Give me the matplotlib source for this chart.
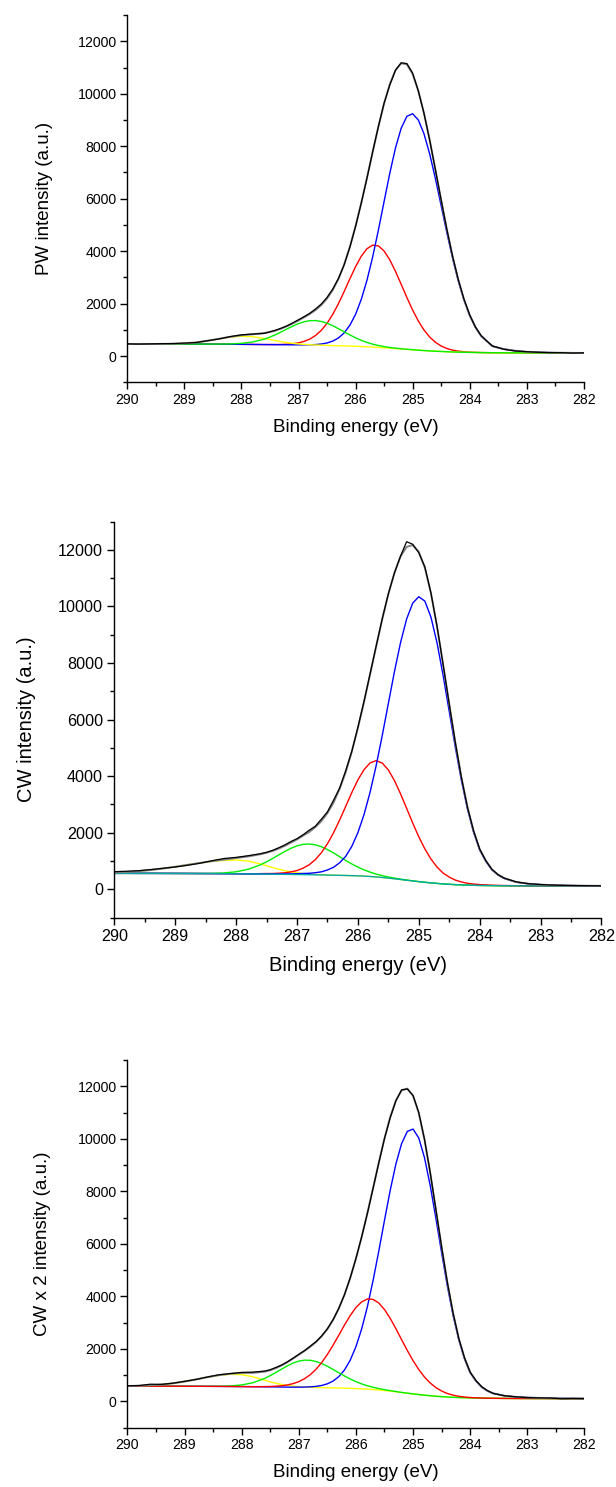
import matplotlib
matplotlib.use("Agg")
import matplotlib.pyplot as plt
from matplotlib.ticker import MultipleLocator

plt.rcParams['font.family'] = ['Liberation Sans', 'DejaVu Sans']

# ---------------- data ----------------
energy = [290.0, 289.8, 289.6, 289.4, 289.2, 289.0, 288.8, 288.6, 288.4, 288.2, 288.0, 287.8, 287.6,
          287.5, 287.4, 287.3, 287.2, 287.1, 287.0, 286.9, 286.8, 286.7, 286.6,
          286.5, 286.4, 286.3, 286.2, 286.1, 286.0, 285.9, 285.8, 285.7, 285.6,
          285.5, 285.4, 285.3, 285.2, 285.1, 285.0, 284.9, 284.8, 284.7, 284.6,
          284.5, 284.4, 284.3, 284.2, 284.1, 284.0, 283.9, 283.8, 283.7, 283.6,
          283.4, 283.2, 283.0, 282.8, 282.6, 282.4, 282.2, 282.0]

# Panel 1 : PW
pw_yellow = [465, 465, 465, 468, 474, 490, 525, 583, 658, 727, 761, 741, 675,
             634, 592, 554, 519, 491, 468, 451, 438, 428, 420,
             413, 405, 399, 393, 386, 378, 368, 358, 347, 335,
             320, 305, 290, 275, 260, 245, 230, 215, 202, 190,
             180, 170, 162, 155, 150, 145, 141, 138, 135, 133,
             130, 128, 126, 125, 124, 123, 122, 121]
pw_green = [465, 465, 465, 465, 464, 463, 462, 461, 462, 467, 489, 543, 651,
            729, 823, 929, 1039, 1148, 1242, 1314, 1354, 1357, 1324,
            1256, 1161, 1048, 929, 811, 702, 605, 525, 460, 408,
            366, 332, 306, 284, 265, 247, 231, 215, 202, 190,
            180, 170, 162, 155, 150, 145, 141, 138, 135, 133,
            130, 128, 126, 125, 124, 123, 122, 121]
pw_red = [465, 465, 465, 465, 464, 463, 462, 460, 458, 455, 452, 448, 444,
          445, 445, 449, 457, 476, 509, 566, 655, 792, 988,
          1254, 1594, 2002, 2464, 2948, 3412, 3810, 4096, 4233, 4205,
          4009, 3673, 3234, 2739, 2235, 1761, 1343, 999, 730, 531,
          390, 294, 232, 193, 170, 155, 146, 140, 136, 133,
          130, 128, 126, 125, 124, 123, 122, 121]
pw_blue = [465, 465, 465, 465, 464, 463, 462, 460, 458, 455, 452, 448, 444,
           442, 440, 438, 435, 434, 433, 433, 435, 444, 465,
           504, 576, 696, 888, 1179, 1596, 2163, 2893, 3783, 4802,
           5891, 6968, 7934, 8688, 9141, 9239, 9002, 8472, 7703, 6765,
           5742, 4711, 3739, 2874, 2145, 1557, 1106, 774, 575, 381,
           270, 206, 168, 150, 138, 131, 126, 123]
pw_fit = [465, 465, 465, 468, 474, 490, 525, 584, 662, 739, 798, 836, 882,
          924, 980, 1056, 1145, 1250, 1362, 1483, 1613, 1764, 1952,
          2197, 2521, 2948, 3495, 4166, 4954, 5842, 6798, 7782, 8745,
          9626, 10363, 10894, 11161, 11121, 10757, 10116, 9256, 8231, 7106,
          5952, 4835, 3809, 2912, 2165, 1567, 1111, 776, 576, 381,
          270, 206, 168, 150, 138, 131, 126, 123]
pw_data = [470, 462, 470, 478, 482, 500, 520, 590, 655, 745, 815, 845, 870,
           930, 990, 1070, 1160, 1270, 1390, 1510, 1640, 1800, 1990,
           2240, 2560, 2960, 3480, 4150, 4940, 5830, 6780, 7790, 8750,
           9640, 10330, 10900, 11180, 11150, 10790, 10110, 9250, 8230, 7100,
           5960, 4840, 3820, 2930, 2180, 1580, 1120, 790, 580, 390,
           265, 200, 172, 150, 135, 135, 120, 128]

# Panel 2 : CW
cw_base = [565, 565, 564, 564, 563, 562, 561, 559, 557, 554, 550, 546, 541,
           539, 536, 533, 530, 527, 524, 521, 517, 513, 509,
           505, 500, 495, 490, 484, 478, 467, 455, 438, 420,
           397, 374, 348, 322, 297, 272, 250, 228, 210, 192,
           179, 166, 158, 149, 144, 138, 135, 131, 129, 127,
           124, 122, 121, 120, 119, 119, 118, 118]
cw_yellow = [594, 614, 643, 684, 736, 799, 866, 931, 987, 1024, 1036, 999, 896,
             834, 770, 711, 660, 617, 584, 560, 541, 527, 517,
             509, 502, 496, 490, 484, 478, 467, 455, 438, 420,
             397, 374, 348, 322, 297, 272, 250, 228, 210, 192,
             179, 166, 158, 149, 144, 138, 135, 131, 129, 127,
             124, 122, 121, 120, 119, 119, 118, 118]
cw_green = [565, 565, 564, 564, 563, 562, 561, 561, 565, 580, 621, 711, 868,
            974, 1092, 1217, 1341, 1451, 1537, 1590, 1603, 1574, 1507,
            1408, 1286, 1154, 1021, 896, 786, 688, 608, 540, 485,
            437, 398, 362, 329, 301, 274, 251, 228, 210, 192,
            179, 166, 158, 149, 144, 138, 135, 131, 129, 127,
            124, 122, 121, 120, 119, 119, 118, 118]
cw_red = [565, 565, 564, 564, 563, 562, 561, 559, 557, 554, 550, 546, 556,
          559, 560, 570, 585, 617, 664, 751, 867, 1048, 1294,
          1612, 2001, 2449, 2935, 3422, 3870, 4231, 4469, 4550, 4466,
          4222, 3848, 3381, 2867, 2347, 1859, 1430, 1072, 789, 574,
          434, 327, 261, 214, 188, 168, 157, 146, 140, 135,
          128, 122, 121, 120, 119, 119, 118, 118]
cw_blue = [565, 565, 564, 564, 563, 562, 561, 559, 557, 554, 550, 546, 545,
           545, 544, 543, 545, 549, 554, 561, 567, 588, 619,
           685, 780, 940, 1167, 1519, 2005, 2638, 3432, 4374, 5440,
           6569, 7693, 8719, 9555, 10117, 10345, 10191, 9624, 8713, 7560,
           6293, 5025, 3853, 2840, 2021, 1392, 995, 691, 509, 387,
           254, 197, 166, 148, 137, 131, 126, 123]
cw_fit = [594, 614, 643, 684, 736, 799, 866, 933, 995, 1050, 1107, 1164, 1242,
          1295, 1358, 1442, 1541, 1653, 1767, 1899, 2027, 2198, 2410,
          2699, 3069, 3554, 4143, 4869, 5705, 6623, 7599, 8588, 9551,
          10434, 11191, 11766, 12107, 12171, 11934, 11372, 10468, 9292, 7942,
          6548, 5186, 3956, 2905, 2065, 1422, 1017, 706, 520, 395,
          258, 197, 166, 148, 137, 131, 126, 123]
cw_data = [625, 640, 660, 700, 745, 790, 850, 920, 1010, 1090, 1130, 1190, 1260,
           1310, 1380, 1470, 1570, 1690, 1790, 1930, 2090, 2230, 2480,
           2740, 3150, 3580, 4200, 4880, 5730, 6640, 7620, 8600, 9570,
           10450, 11180, 11780, 12290, 12200, 11900, 11400, 10480, 9300, 7950,
           6560, 5200, 3960, 2900, 2070, 1430, 1020, 710, 525, 400,
           265, 200, 170, 150, 140, 132, 127, 125]

# Panel 3 : CW x 2
cw2_yellow = [582, 590, 607, 637, 685, 751, 833, 917, 988, 1027, 1017, 931, 803,
              741, 686, 639, 603, 577, 558, 544, 534, 527, 521,
              516, 510, 505, 499, 492, 485, 474, 463, 447, 430,
              408, 385, 359, 332, 306, 280, 256, 232, 212, 192,
              177, 162, 152, 141, 135, 128, 124, 119, 116, 113,
              109, 106, 104, 103, 102, 101, 101, 100]
cw2_green = [575, 575, 574, 574, 573, 572, 571, 570, 573, 585, 622, 709, 868,
             977, 1098, 1226, 1349, 1455, 1530, 1567, 1560, 1515, 1437,
             1333, 1213, 1087, 964, 849, 750, 663, 593, 533, 485,
             442, 405, 371, 338, 309, 282, 257, 232, 212, 192,
             177, 162, 152, 141, 135, 128, 124, 119, 116, 113,
             109, 106, 104, 103, 102, 101, 101, 100]
cw2_red = [575, 575, 574, 574, 573, 572, 571, 569, 567, 564, 560, 556, 559,
           564, 573, 591, 622, 672, 748, 859, 1012, 1215, 1473,
           1783, 2136, 2518, 2905, 3266, 3572, 3788, 3898, 3882, 3744,
           3495, 3159, 2765, 2345, 1932, 1548, 1210, 924, 697, 520,
           391, 297, 234, 189, 162, 143, 132, 123, 118, 113,
           109, 106, 104, 103, 102, 101, 101, 100]
cw2_blue = [575, 575, 574, 574, 573, 572, 571, 569, 567, 564, 560, 556, 551,
            549, 546, 543, 540, 539, 539, 542, 550, 567, 602,
            665, 770, 938, 1194, 1565, 2080, 2754, 3599, 4599, 5720,
            6894, 8037, 9046, 9822, 10283, 10371, 10032, 9284, 8222, 6967,
            5654, 4393, 3276, 2346, 1622, 1086, 774, 539, 396, 303,
            209, 166, 142, 128, 118, 111, 107, 104]
cw2_fit = [582, 590, 607, 637, 685, 751, 833, 918, 994, 1048, 1079, 1084, 1128,
           1184, 1265, 1370, 1494, 1632, 1773, 1919, 2075, 2255, 2476,
           2752, 3099, 3533, 4065, 4696, 5432, 6257, 7164, 8120, 9089,
           10015, 10831, 11464, 11841, 11912, 11641, 10987, 9976, 8707, 7295,
           5868, 4528, 3358, 2394, 1649, 1101, 782, 543, 398, 303,
           209, 166, 142, 128, 118, 111, 107, 104]
cw2_data = [590, 600, 650, 645, 690, 760, 830, 925, 1010, 1055, 1100, 1110, 1150,
            1200, 1290, 1380, 1500, 1640, 1790, 1930, 2100, 2270, 2490,
            2760, 3110, 3540, 4060, 4700, 5440, 6260, 7150, 8110, 9080,
            10010, 10800, 11450, 11870, 11900, 11650, 11000, 9980, 8720, 7300,
            5880, 4540, 3370, 2400, 1660, 1110, 790, 560, 410, 300,
            210, 170, 140, 130, 125, 95, 105, 100]

ylabels = ['PW intensity (a.u.)', 'CW intensity (a.u.)', 'CW x 2 intensity (a.u.)']
xlabel = 'Binding energy (eV)'

# ---------------- styling ----------------
YEL, GRN, RED, BLU, TEAL = '#FFFF00', '#00EE00', '#FF0000', '#0000FF', '#00A8A8'

fig = plt.figure(figsize=(6.16, 14.87), dpi=100)


def setup(ax, ylabel, tsize, lsize, ylab_x, xlab_y, scale=1.0):
    ax.set_xlim(290, 282)
    ax.set_ylim(-1000, 13000)
    ax.xaxis.set_major_locator(MultipleLocator(1))
    ax.xaxis.set_minor_locator(MultipleLocator(0.5))
    ax.yaxis.set_major_locator(MultipleLocator(2000))
    ax.yaxis.set_minor_locator(MultipleLocator(1000))
    for s in ('top', 'right'):
        ax.spines[s].set_visible(False)
    for s in ('left', 'bottom'):
        ax.spines[s].set_linewidth(1.0)
    ax.tick_params(which='major', direction='out', length=5 * scale, width=1.0,
                   pad=2.8, labelsize=tsize, colors='black')
    ax.tick_params(which='minor', direction='out', length=3 * scale, width=1.0)
    ax.set_ylabel(ylabel, fontsize=lsize)
    ax.set_xlabel(xlabel, fontsize=lsize)
    ax.yaxis.set_label_coords(ylab_x, 0.5)
    ax.xaxis.set_label_coords(0.5, xlab_y)


lw = 1.0

# Panel 1
ax1 = fig.add_axes([0.2068, 0.7428, 0.7408, 0.2471])
ax1.plot(energy, pw_red, color=RED, lw=lw)
ax1.plot(energy, pw_blue, color=BLU, lw=lw)
ax1.plot(energy, pw_yellow, color=YEL, lw=lw)
ax1.plot(energy, pw_green, color=GRN, lw=lw)
ax1.plot(energy, pw_fit, color='#808080', lw=1.4)
ax1.plot(energy, pw_data, color='black', lw=0.9)
setup(ax1, ylabels[0], 10.2, 13.5, -0.162, -0.099)

# Panel 2
ax2 = fig.add_axes([0.1857, 0.3829, 0.7906, 0.2663])
ax2.plot(energy, cw_yellow, color=YEL, lw=lw)
ax2.plot(energy, cw_green, color=GRN, lw=lw)
ax2.plot(energy, cw_red, color=RED, lw=lw)
ax2.plot(energy, cw_blue, color=BLU, lw=lw)
ax2.plot(energy, cw_base, color=TEAL, lw=lw)
ax2.plot(energy, cw_fit, color='#808080', lw=1.4)
ax2.plot(energy, cw_data, color='black', lw=0.9)
setup(ax2, ylabels[1], 11.6, 14.5, -0.161, -0.096, scale=1.07)

# Panel 3
ax3 = fig.add_axes([0.2068, 0.0400, 0.7420, 0.2471])
ax3.plot(energy, cw2_yellow, color=YEL, lw=lw)
ax3.plot(energy, cw2_blue, color=BLU, lw=lw)
ax3.plot(energy, cw2_green, color=GRN, lw=lw)
ax3.plot(energy, cw2_red, color=RED, lw=lw)
ax3.plot(energy, cw2_fit, color='#808080', lw=1.4)
ax3.plot(energy, cw2_data, color='black', lw=0.9)
setup(ax3, ylabels[2], 10.2, 13.5, -0.167, -0.099)

fig.savefig('out.png', dpi=100)
